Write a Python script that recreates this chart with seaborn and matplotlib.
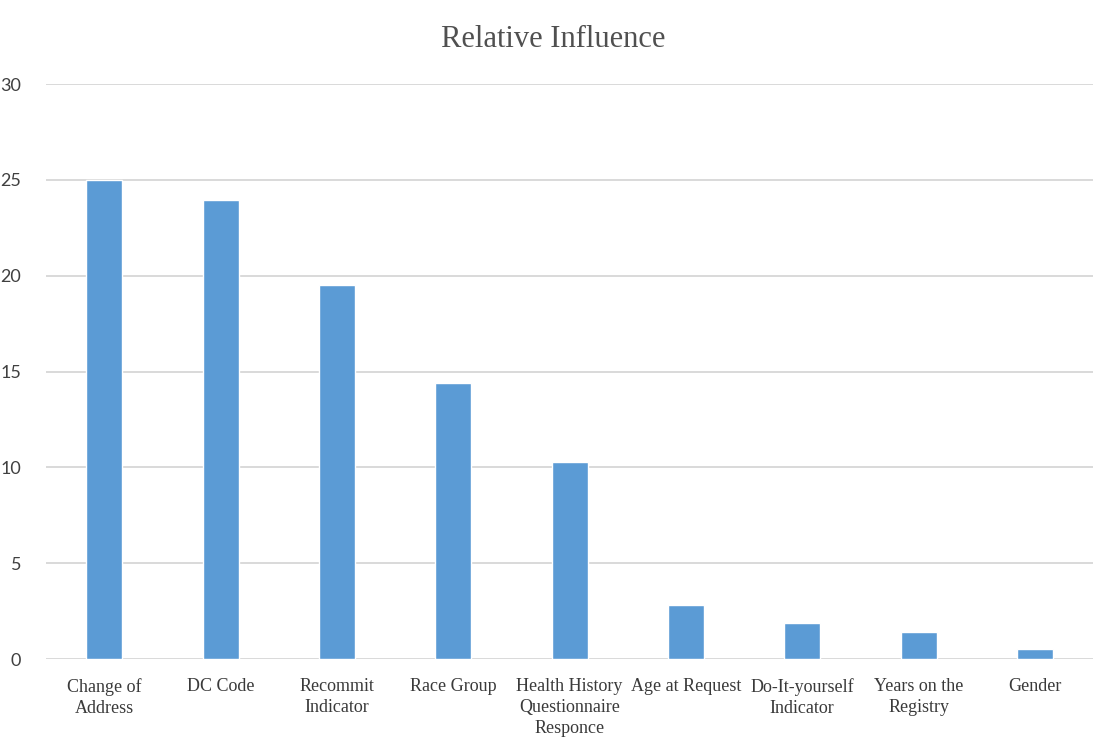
import matplotlib
matplotlib.use("Agg")
import matplotlib.pyplot as plt
import seaborn as sns
import pandas as pd

categories = [
    "Change of\nAddress",
    "DC Code",
    "Recommit\nIndicator",
    "Race Group",
    "Health History\nQuestionnaire\nResponce",
    "Age at Request",
    "Do-It-yourself\nIndicator",
    "Years on the\nRegistry",
    "Gender",
]
influence = [25.0, 23.96, 19.53, 14.4, 10.26, 2.83, 1.88, 1.39, 0.52]
y_ticks = [0, 5, 10, 15, 20, 25, 30]

df = pd.DataFrame({"variable": categories, "influence": influence})

sns.set_theme(style="white")
plt.rcParams["font.family"] = ["Liberation Serif", "DejaVu Serif"]

fig = plt.figure(figsize=(11.07, 7.44), dpi=100)
ax = fig.add_axes([0.0416, 0.1142, 0.9458, 0.7728])

sns.barplot(data=df, x="variable", y="influence", color="#5b9bd5",
            saturation=1, width=0.31, ax=ax, zorder=3)

ax.set_ylim(0, 30)
ax.set_yticks(y_ticks)
ax.set_xlim(-0.5, len(categories) - 0.5)
ax.yaxis.grid(True, color="#d9d9d9", linewidth=1.4, zorder=0)
ax.xaxis.grid(False)
ax.set_axisbelow(True)
for s in ax.spines.values():
    s.set_visible(False)
ax.set_xlabel("")
ax.set_ylabel("")

ax.tick_params(axis="both", length=0)
ax.tick_params(axis="x", pad=14)
ax.tick_params(axis="y", pad=18)
for lab in ax.get_xticklabels():
    lab.set_fontfamily(["Liberation Serif"])
    lab.set_fontsize(13)
    lab.set_color("#3a3a3a")
    lab.set_linespacing(1.3)
    lab.set_verticalalignment("top")
for lab in ax.get_yticklabels():
    lab.set_fontfamily(["Lato", "DejaVu Sans"])
    lab.set_fontsize(13)
    lab.set_color("#404040")

fig.text(0.5, 0.947, "Relative Influence", ha="center", va="center",
         fontsize=22, color="#505050", family=["Liberation Serif"])

fig.savefig("out.png", dpi=100, facecolor="white")
